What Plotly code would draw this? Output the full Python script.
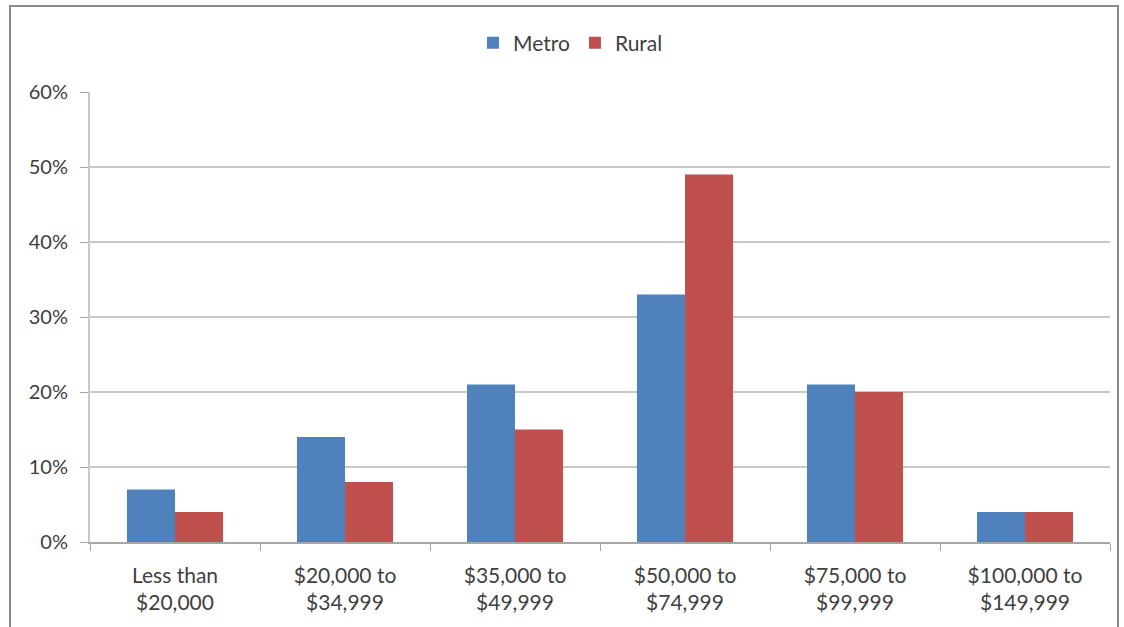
import plotly.graph_objects as go

categories = ["Less than<br>$20,000", "$20,000 to<br>$34,999", "$35,000 to<br>$49,999",
              "$50,000 to<br>$74,999", "$75,000 to<br>$99,999", "$100,000 to<br>$149,999"]
metro = [7, 14, 21, 33, 21, 4]
rural = [4, 8, 15, 49, 20, 4]
y_ticks = [0, 10, 20, 30, 40, 50, 60]
y_tick_labels = ["0%", "10%", "20%", "30%", "40%", "50%", "60%"]

font_family = "Lato, 'Open Sans', sans-serif"
text_color = "#404040"

fig = go.Figure()
fig.add_trace(go.Bar(name="Metro", x=categories, y=metro, marker=dict(color="#4F81BD", line=dict(width=0))))
fig.add_trace(go.Bar(name="Rural", x=categories, y=rural, marker=dict(color="#C0504D", line=dict(width=0))))

L, R, T, B = 90, 14, 92, 85
W, H = 1124, 627
pw = W - L - R
ph = H - T - B

fig.update_layout(
    width=W, height=H,
    margin=dict(l=L, r=R, t=T, b=B, autoexpand=False),
    paper_bgcolor="white", plot_bgcolor="white",
    barmode="group", bargap=0.435, bargroupgap=0,
    font=dict(family=font_family, size=21, color=text_color),
    showlegend=True,
    legend=dict(orientation="h", x=(473 - L) / pw, xanchor="left", y=(H - B - 43) / ph, yanchor="middle",
                font=dict(size=21, color=text_color), itemwidth=30, traceorder="normal",
                bgcolor="rgba(0,0,0,0)"),
    xaxis=dict(type="category", showline=True, linecolor="#A6A6A6", linewidth=1.5,
               ticks="outside", tickson="boundaries", ticklen=7, tickcolor="#A6A6A6",
               ticklabelstandoff=14,
               tickfont=dict(size=21, color=text_color), showgrid=False),
    yaxis=dict(range=[0, 60], tickvals=y_ticks, ticktext=y_tick_labels, showline=True,
               linecolor="#C8C8C8", linewidth=2, ticks="outside", ticklen=8, tickcolor="#A6A6A6",
               ticklabelstandoff=8,
               showgrid=True, gridcolor="#C8C8C8", gridwidth=1.5, zeroline=False,
               tickfont=dict(size=20, color=text_color)),
    shapes=[dict(type="rect", xref="paper", yref="paper",
                 x0=(10 - L) / pw, x1=(1118 - L) / pw, y0=(H - B - 660) / ph, y1=(H - B - 6) / ph,
                 line=dict(color="#8C8C8C", width=2), fillcolor="rgba(0,0,0,0)", layer="below")],
)

fig.write_html("out.html", config={"displayModeBar": False},
               post_script="document.body.style.margin='0';document.body.style.overflow='hidden';")
